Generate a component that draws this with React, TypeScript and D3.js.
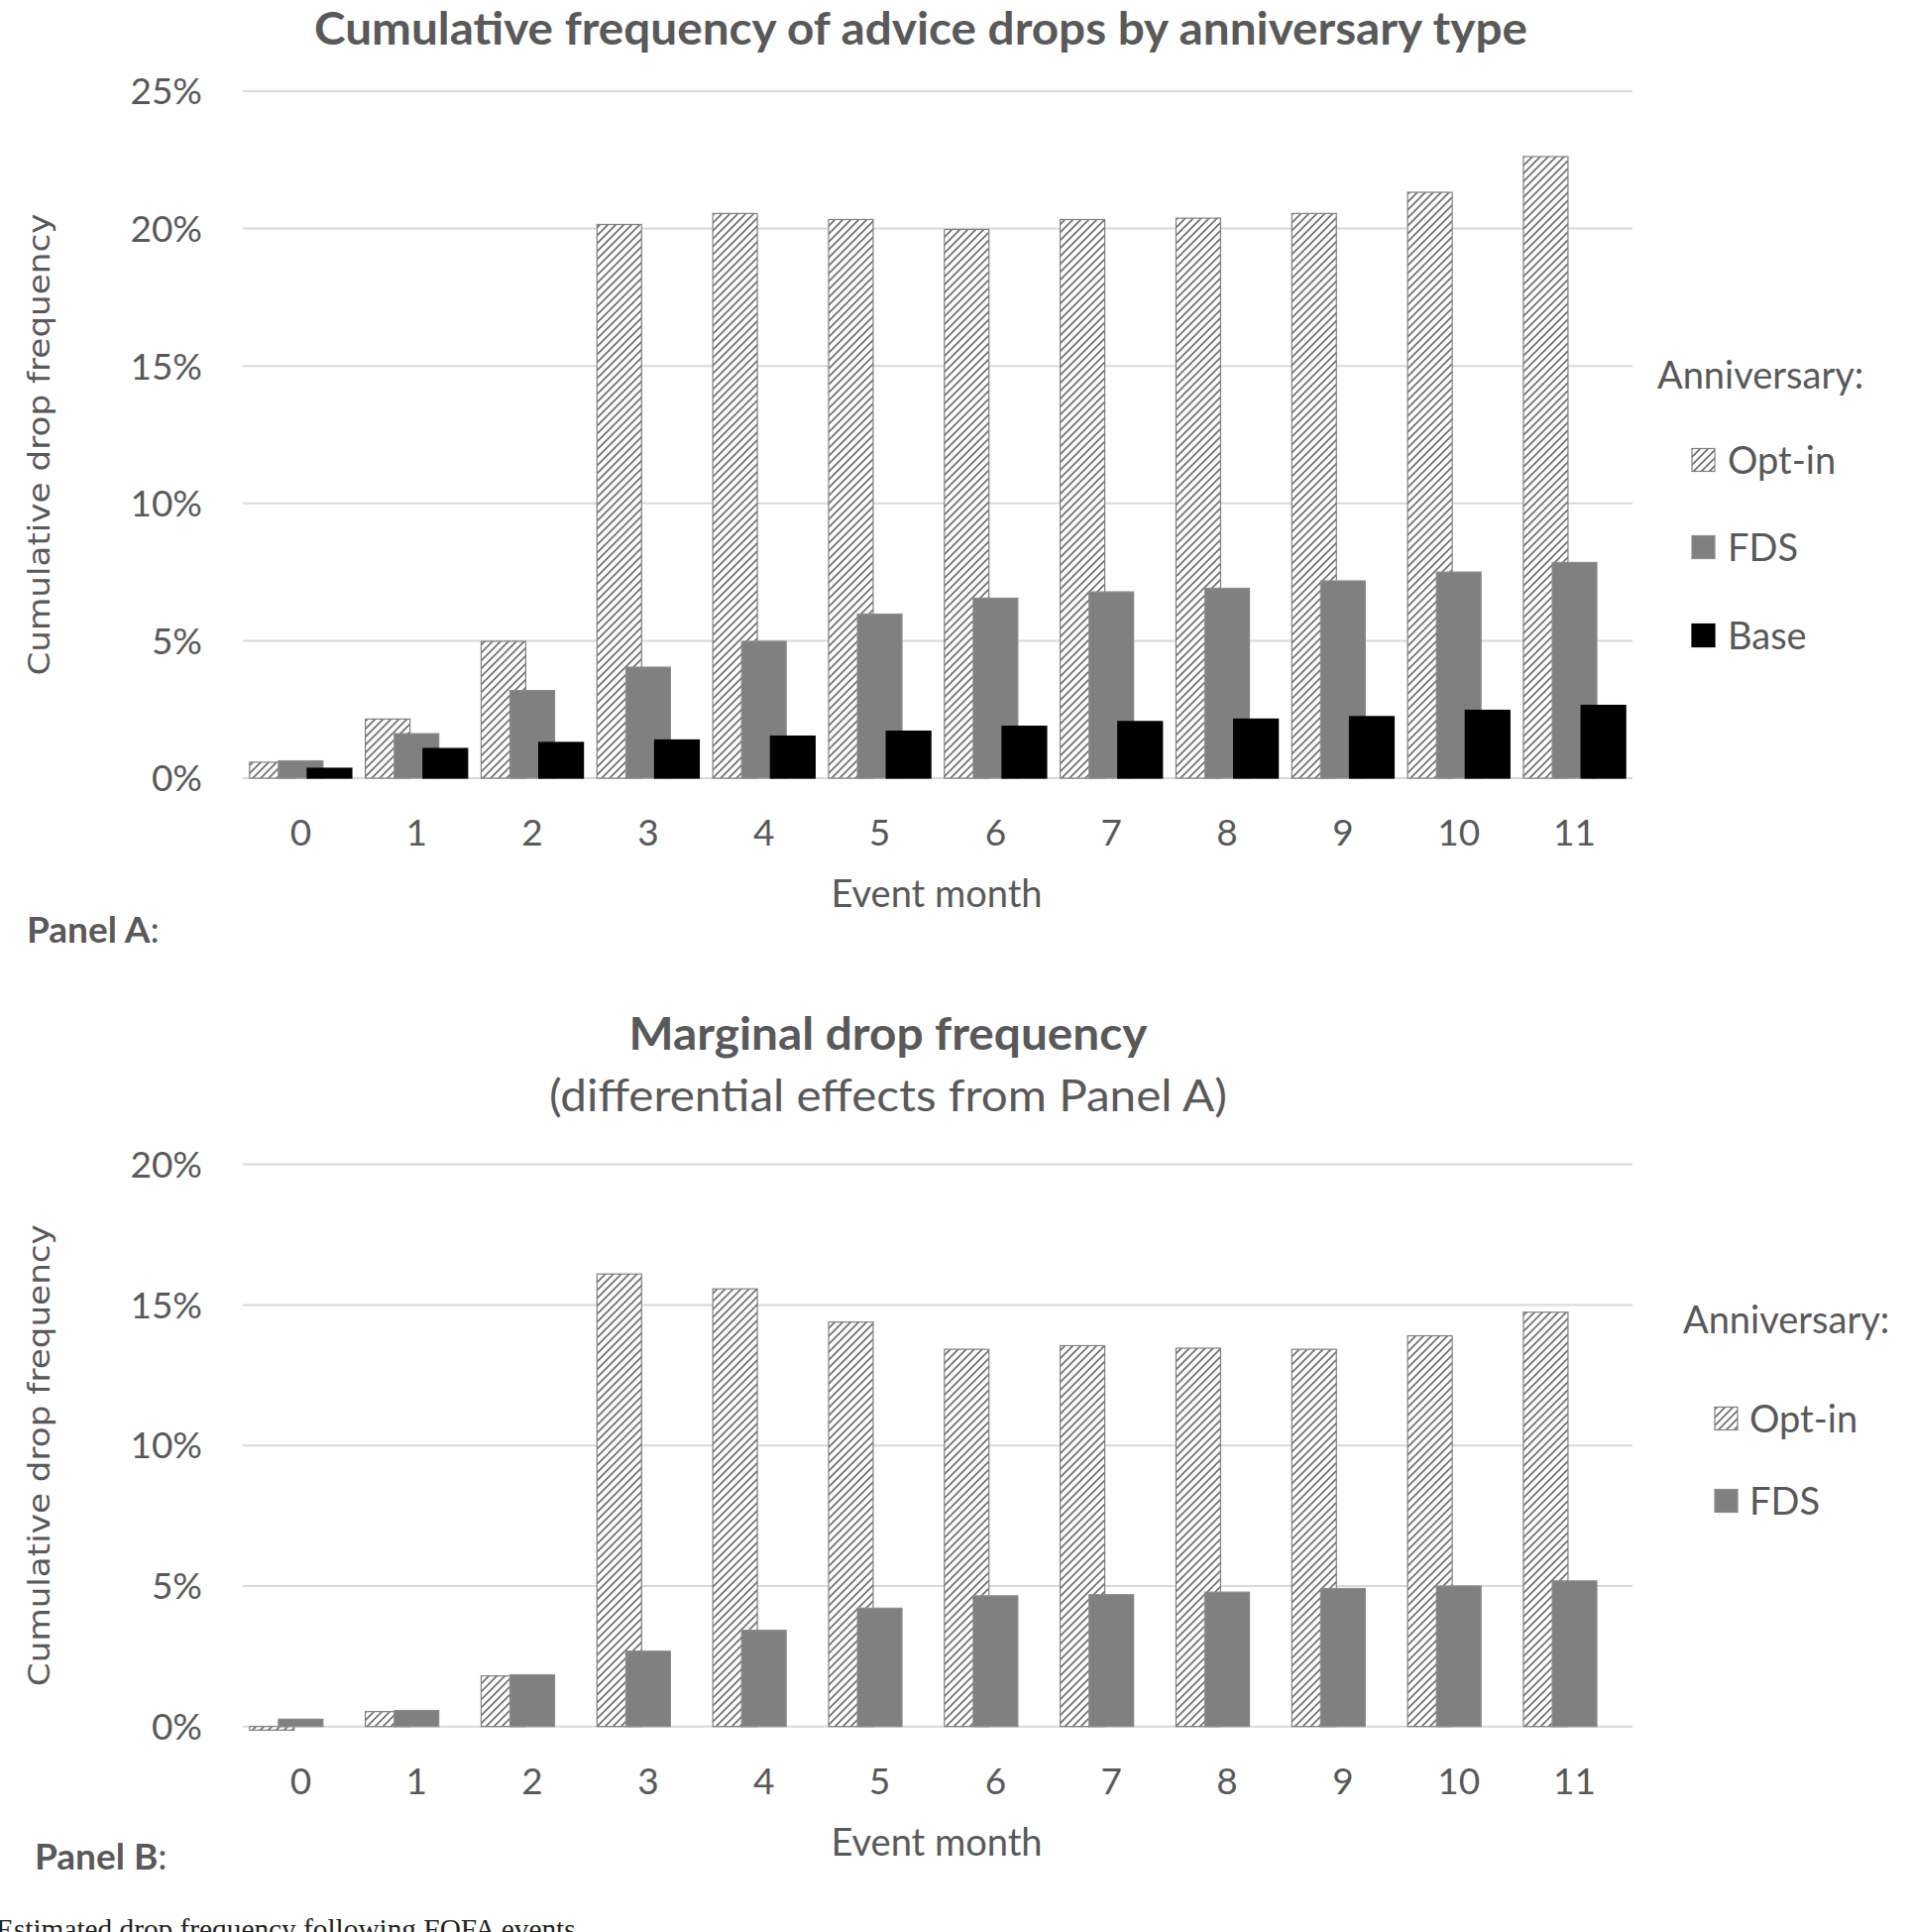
import React, { useRef, useEffect } from 'react';
import * as d3 from 'd3';

// Event months on the x axis
const months = ['0', '1', '2', '3', '4', '5', '6', '7', '8', '9', '10', '11'];

// Panel A: cumulative drop frequency (%)
const cumOptIn = [0.58, 2.15, 4.98, 20.15, 20.55, 20.33, 19.97, 20.33, 20.38, 20.55, 21.32, 22.62];
const cumFds = [0.63, 1.62, 3.19, 4.04, 4.98, 5.97, 6.55, 6.78, 6.91, 7.18, 7.5, 7.85];
const cumBase = [0.36, 1.08, 1.3, 1.39, 1.53, 1.71, 1.89, 2.06, 2.15, 2.24, 2.47, 2.65];

// Panel B: marginal drop frequency (%)
const margOptIn = [-0.13, 0.53, 1.8, 16.1, 15.57, 14.39, 13.42, 13.55, 13.46, 13.42, 13.9, 14.74];
const margFds = [0.26, 0.57, 1.84, 2.68, 3.42, 4.21, 4.65, 4.69, 4.78, 4.91, 5.0, 5.18];

const ticksA = [0, 5, 10, 15, 20, 25];
const ticksB = [0, 5, 10, 15, 20];

const seriesNames = ['Opt-in', 'FDS', 'Base'];

const TEXT = '#595959';
const GRID = '#d9d9d9';
const SANS = 'Lato, Carlito, "Open Sans", sans-serif';

type Series = { name: string; values: number[]; fill: string; stroke: string };

const width = 1931;
const height = 1949;

export default function App() {
  const ref = useRef<SVGSVGElement | null>(null);

  useEffect(() => {
    document.body.style.margin = '0';
    if (!ref.current) return;
    const svg = d3.select(ref.current);
    svg.selectAll('*').remove();

    svg.append('rect').attr('width', width).attr('height', height).attr('fill', '#ffffff');

    // hatch pattern for the Opt-in bars
    const defs = svg.append('defs');
    const pat = defs.append('pattern')
      .attr('id', 'hatch')
      .attr('patternUnits', 'userSpaceOnUse')
      .attr('width', 8)
      .attr('height', 8);
    pat.append('rect').attr('width', 8).attr('height', 8).attr('fill', '#ffffff');
    pat.append('path')
      .attr('d', 'M-2,2 l4,-4 M0,8 l8,-8 M6,10 l4,-4')
      .attr('stroke', '#707070')
      .attr('stroke-width', 1.7);

    const x = d3.scaleBand<string>().domain(months).range([245, 1647]).padding(0);
    const bw = x.bandwidth();
    const barW = bw * 0.385;
    const offset = (i: number) => bw * 0.058 + i * bw * 0.249;

    const styleFor = (i: number) => {
      if (i === 0) return { fill: 'url(#hatch)', stroke: '#808080' };
      if (i === 1) return { fill: '#808080', stroke: '#8c8c8c' };
      return { fill: '#000000', stroke: '#000000' };
    };

    const drawPanel = (
      series: Series[],
      ticks: number[],
      yRange: [number, number],
      legend: { x: number; titleY: number; swX: number; txtX: number; ys: number[] }
    ) => {
      const y = d3.scaleLinear().domain([0, ticks[ticks.length - 1]]).range(yRange);
      const g = svg.append('g');

      // gridlines
      g.selectAll('line.grid')
        .data(ticks)
        .join('line')
        .attr('x1', 245)
        .attr('x2', 1647)
        .attr('y1', (d) => y(d))
        .attr('y2', (d) => y(d))
        .attr('stroke', GRID)
        .attr('stroke-width', 2);

      // y tick labels
      g.selectAll('text.ytick')
        .data(ticks)
        .join('text')
        .attr('x', 204)
        .attr('y', (d) => y(d))
        .attr('dy', '0.36em')
        .attr('text-anchor', 'end')
        .attr('font-family', SANS)
        .attr('font-size', 37)
        .attr('fill', TEXT)
        .text((d) => `${d}%`);

      // bars
      series.forEach((s, i) => {
        g.selectAll(`rect.s${i}`)
          .data(s.values)
          .join('rect')
          .attr('x', (_d, j) => (x(months[j]) as number) + offset(i))
          .attr('width', barW)
          .attr('y', (d) => Math.min(y(d), y(0)))
          .attr('height', (d) => Math.max(1, Math.abs(y(d) - y(0))))
          .attr('fill', s.fill)
          .attr('stroke', s.stroke)
          .attr('stroke-width', 1.2);
      });

      // x tick labels
      g.selectAll('text.xtick')
        .data(months)
        .join('text')
        .attr('x', (d) => (x(d) as number) + bw / 2)
        .attr('y', y(0) + 68)
        .attr('text-anchor', 'middle')
        .attr('font-family', SANS)
        .attr('font-size', 37)
        .attr('fill', TEXT)
        .text((d) => d);

      // x axis title
      g.append('text')
        .attr('x', 945)
        .attr('y', y(0) + 130)
        .attr('text-anchor', 'middle')
        .attr('font-family', SANS)
        .attr('font-size', 38)
        .attr('fill', TEXT)
        .text('Event month');

      // y axis title
      const midY = (y(0) + y(ticks[ticks.length - 1])) / 2 + 10;
      g.append('text')
        .attr('transform', `translate(50,${midY}) rotate(-90)`)
        .attr('text-anchor', 'middle')
        .attr('font-family', '"DejaVu Sans", Verdana, sans-serif')
        .attr('font-size', 31)
        .attr('fill', TEXT)
        .attr('textLength', 466)
        .attr('lengthAdjust', 'spacingAndGlyphs')
        .text('Cumulative drop frequency');

      // legend
      g.append('text')
        .attr('x', legend.x)
        .attr('y', legend.titleY)
        .attr('dy', '0.36em')
        .attr('font-family', SANS)
        .attr('font-size', 38)
        .attr('fill', TEXT)
        .text('Anniversary:');
      series.forEach((s, i) => {
        g.append('rect')
          .attr('x', legend.swX)
          .attr('y', legend.ys[i] - 11.5)
          .attr('width', 23)
          .attr('height', 23)
          .attr('fill', s.fill)
          .attr('stroke', s.stroke)
          .attr('stroke-width', 1.2);
        g.append('text')
          .attr('x', legend.txtX)
          .attr('y', legend.ys[i])
          .attr('dy', '0.36em')
          .attr('font-family', SANS)
          .attr('font-size', 38)
          .attr('fill', TEXT)
          .text(s.name);
      });
    };

    const seriesA: Series[] = [cumOptIn, cumFds, cumBase].map((v, i) => ({
      name: seriesNames[i],
      values: v,
      ...styleFor(i),
    }));
    const seriesB: Series[] = [margOptIn, margFds].map((v, i) => ({
      name: seriesNames[i],
      values: v,
      ...styleFor(i),
    }));

    // Panel A
    svg.append('text')
      .attr('x', 929)
      .attr('y', 45)
      .attr('text-anchor', 'middle')
      .attr('font-family', SANS)
      .attr('font-weight', 'bold')
      .attr('font-size', 45)
      .attr('fill', TEXT)
      .attr('textLength', 1224)
      .attr('lengthAdjust', 'spacingAndGlyphs')
      .text('Cumulative frequency of advice drops by anniversary type');

    drawPanel(seriesA, ticksA, [785, 92], {
      x: 1672, titleY: 378, swX: 1707, txtX: 1743, ys: [464, 552, 641],
    });

    const labelA = svg.append('text')
      .attr('x', 27)
      .attr('y', 951)
      .attr('font-family', SANS)
      .attr('font-size', 37)
      .attr('fill', TEXT);
    labelA.append('tspan').attr('font-weight', 'bold').text('Panel A');
    labelA.append('tspan').text(':');

    // Panel B
    svg.append('text')
      .attr('x', 896)
      .attr('y', 1059)
      .attr('text-anchor', 'middle')
      .attr('font-family', SANS)
      .attr('font-weight', 'bold')
      .attr('font-size', 45)
      .attr('fill', TEXT)
      .attr('textLength', 523)
      .attr('lengthAdjust', 'spacingAndGlyphs')
      .text('Marginal drop frequency');

    svg.append('text')
      .attr('x', 896)
      .attr('y', 1121)
      .attr('text-anchor', 'middle')
      .attr('font-family', SANS)
      .attr('font-size', 44)
      .attr('fill', TEXT)
      .attr('textLength', 684)
      .attr('lengthAdjust', 'spacingAndGlyphs')
      .text('(differential effects from Panel A)');

    drawPanel(seriesB, ticksB, [1741.7, 1174.6], {
      x: 1698, titleY: 1331, swX: 1730, txtX: 1765, ys: [1431, 1514],
    });

    const labelB = svg.append('text')
      .attr('x', 35)
      .attr('y', 1886)
      .attr('font-family', SANS)
      .attr('font-size', 37)
      .attr('fill', TEXT);
    labelB.append('tspan').attr('font-weight', 'bold').text('Panel B');
    labelB.append('tspan').text(':');

    // caption, cut by the bottom edge as in the source page
    svg.append('text')
      .attr('x', -4)
      .attr('y', 1956)
      .attr('font-family', '"Liberation Serif", "Times New Roman", serif')
      .attr('font-size', 30)
      .attr('fill', '#222222')
      .attr('textLength', 592)
      .attr('lengthAdjust', 'spacingAndGlyphs')
      .text('Estimated drop frequency following FOFA events.');
  }, []);

  return (
    <svg
      ref={ref}
      width={width}
      height={height}
      viewBox={`0 0 ${width} ${height}`}
      style={{ position: 'absolute', left: 0, top: 0, display: 'block' }}
    />
  );
}
